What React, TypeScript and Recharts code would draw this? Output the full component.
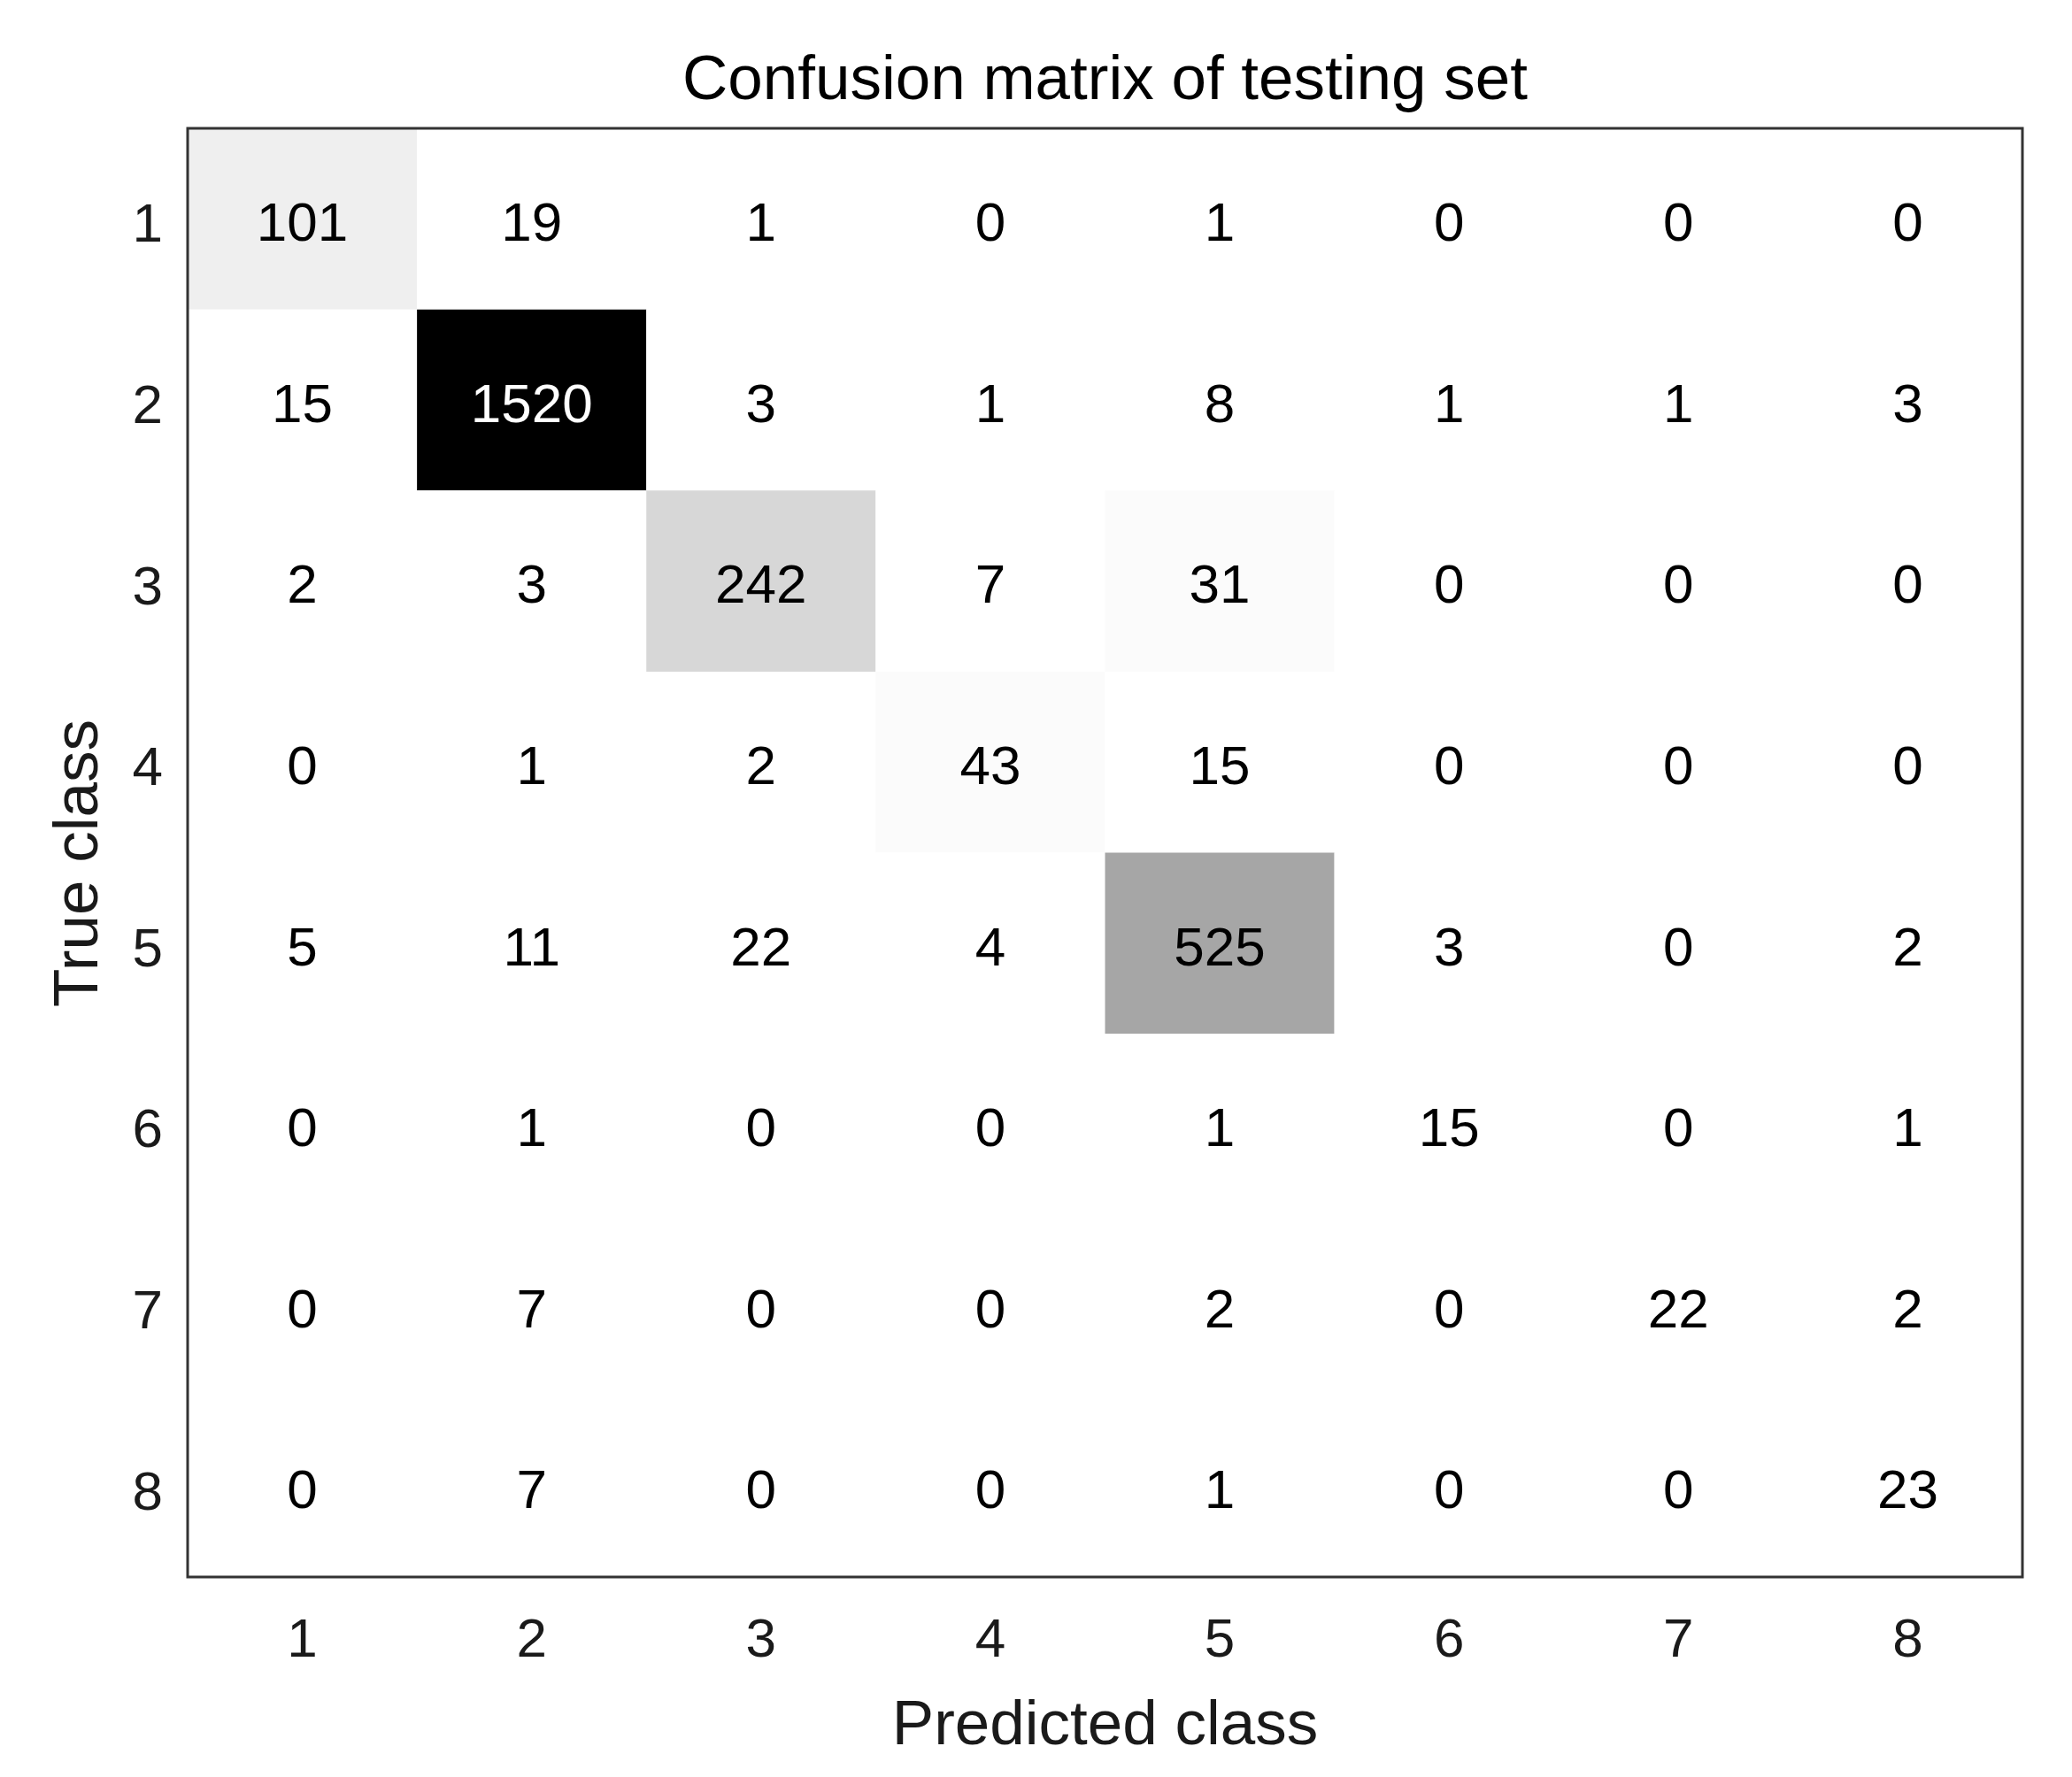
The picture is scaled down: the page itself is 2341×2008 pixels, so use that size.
import React from 'react';
import { ScatterChart, Scatter, XAxis, YAxis, ReferenceArea, Label } from 'recharts';

const chartTitle = 'Confusion matrix of testing set';
const xAxisTitle = 'Predicted class';
const yAxisTitle = 'True class';

const predictedClasses = [1, 2, 3, 4, 5, 6, 7, 8];
const trueClasses = [1, 2, 3, 4, 5, 6, 7, 8];

const trueClass1 = [101, 19, 1, 0, 1, 0, 0, 0];
const trueClass2 = [15, 1520, 3, 1, 8, 1, 1, 3];
const trueClass3 = [2, 3, 242, 7, 31, 0, 0, 0];
const trueClass4 = [0, 1, 2, 43, 15, 0, 0, 0];
const trueClass5 = [5, 11, 22, 4, 525, 3, 0, 2];
const trueClass6 = [0, 1, 0, 0, 1, 15, 0, 1];
const trueClass7 = [0, 7, 0, 0, 2, 0, 22, 2];
const trueClass8 = [0, 7, 0, 0, 1, 0, 0, 23];

const countsByTrueClass = [
  trueClass1, trueClass2, trueClass3, trueClass4,
  trueClass5, trueClass6, trueClass7, trueClass8,
];

const cells = trueClasses.flatMap((t, i) =>
  predictedClasses.map((p, j) => ({ predicted: p, actual: t, count: countsByTrueClass[i][j] }))
);

const maxCount = Math.max(...cells.map((c) => c.count));
const LEVELS = 64;
const FONT = '"Liberation Sans", Arial, Helvetica, sans-serif';

function cellFill(v: number) {
  const idx = Math.min(LEVELS - 1, Math.floor((v / maxCount) * LEVELS));
  const g = Math.round((255 * (LEVELS - 1 - idx)) / (LEVELS - 1));
  return `rgb(${g},${g},${g})`;
}

const CellText = (props: any) => {
  const { cx, cy, payload } = props;
  if (cx == null || cy == null) return null;
  return (
    <text
      x={cx}
      y={cy}
      dy="0.4em"
      textAnchor="middle"
      fontSize={62}
      fontFamily={FONT}
      fill={payload.count === maxCount ? '#ffffff' : '#000000'}
    >
      {payload.count}
    </text>
  );
};

export default function App() {
  return (
    <div style={{ position: 'absolute', left: 0, top: 0, background: '#fff' }}>
      <ScatterChart
        width={2341}
        height={2008}
        margin={{ top: 0, right: 56, bottom: 0, left: 0 }}
      >
        <XAxis
          xAxisId="top"
          orientation="top"
          type="number"
          dataKey="predicted"
          domain={[0.5, 8.5]}
          height={145}
          tick={false}
          tickLine={false}
          axisLine={false}
        >
          <Label
            value={chartTitle}
            position="insideTop"
            offset={62}
            fontSize={71}
            fontFamily={FONT}
            fill="#000000"
          />
        </XAxis>
        <XAxis
          type="number"
          dataKey="predicted"
          domain={[0.5, 8.5]}
          ticks={predictedClasses}
          allowDataOverflow
          height={226}
          tickLine={false}
          axisLine={false}
          tickSize={0}
          tickMargin={46}
          tick={{ fontSize: 62, fill: '#1a1a1a', fontFamily: FONT }}
        >
          <Label
            value={xAxisTitle}
            position="insideBottom"
            offset={37}
            fontSize={71}
            fontFamily={FONT}
            fill="#1a1a1a"
          />
        </XAxis>
        <YAxis
          type="number"
          dataKey="actual"
          domain={[0.5, 8.5]}
          ticks={trueClasses}
          reversed
          allowDataOverflow
          width={212}
          tickLine={false}
          axisLine={false}
          tickSize={0}
          tickMargin={28}
          tick={{ fontSize: 62, fill: '#1a1a1a', fontFamily: FONT, dy: 4 }}
        >
          <Label
            value={yAxisTitle}
            position="insideLeft"
            angle={-90}
            offset={85}
            dy={12}
            fontSize={71}
            fontFamily={FONT}
            fill="#1a1a1a"
            style={{ textAnchor: 'middle' }}
          />
        </YAxis>
        {cells.map((c) => (
          <ReferenceArea
            key={`cell-${c.actual}-${c.predicted}`}
            x1={c.predicted - 0.5}
            x2={c.predicted + 0.5}
            y1={c.actual - 0.5}
            y2={c.actual + 0.5}
            fill={cellFill(c.count)}
            fillOpacity={1}
            stroke="none"
            ifOverflow="visible"
          />
        ))}
        <Scatter data={cells} shape={<CellText />} isAnimationActive={false} />
        <ReferenceArea
          x1={0.5}
          x2={8.5}
          y1={0.5}
          y2={8.5}
          fill="none"
          fillOpacity={0}
          stroke="#333333"
          strokeWidth={3}
          ifOverflow="visible"
        />
      </ScatterChart>
    </div>
  );
}
